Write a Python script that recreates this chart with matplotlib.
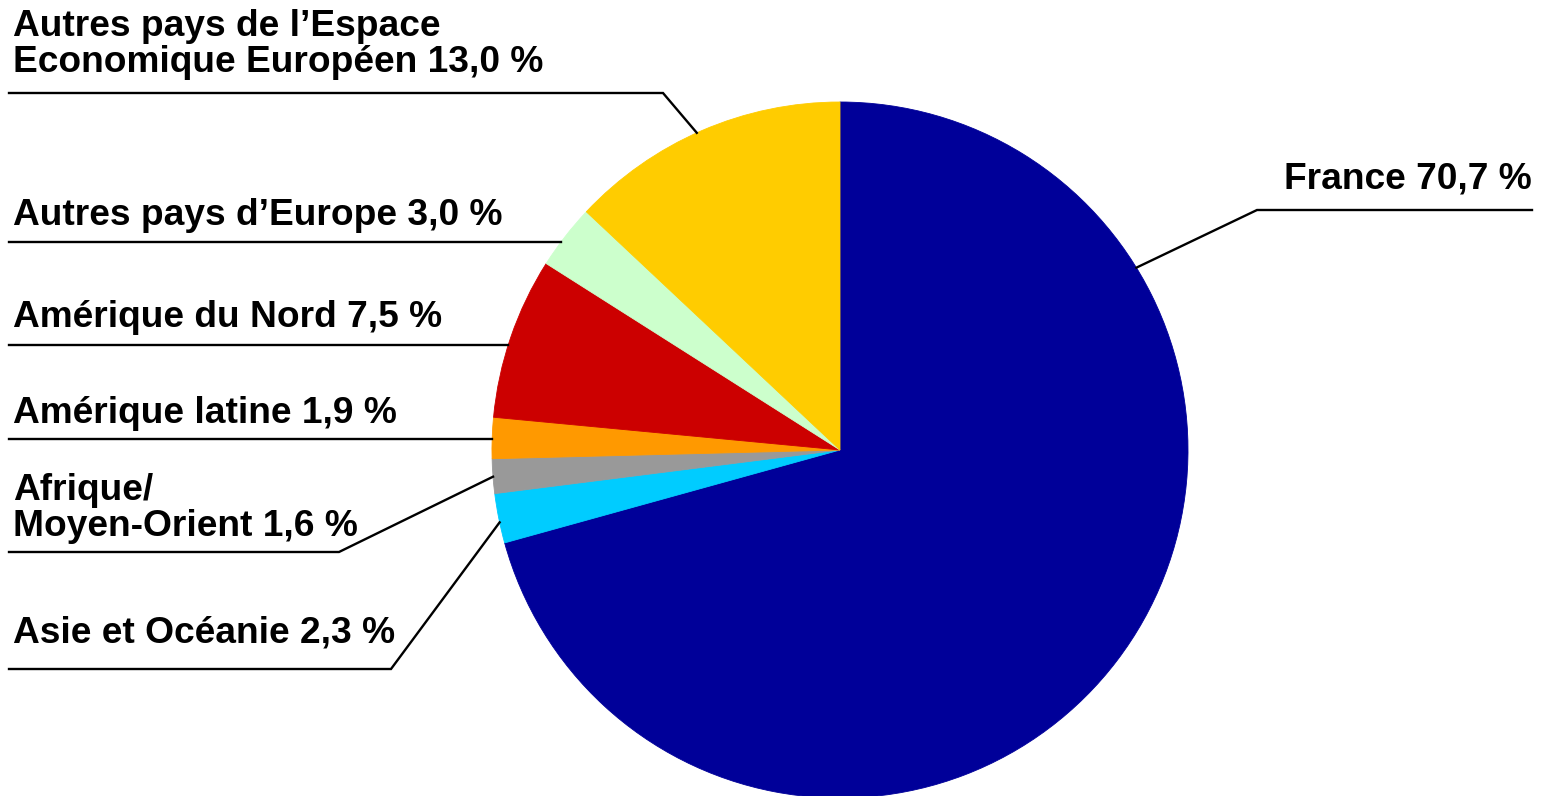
import numpy as np
import matplotlib
matplotlib.use("Agg")
import matplotlib.pyplot as plt

# données (en %)
regions = ["France", "Asie et Océanie", "Afrique/\nMoyen-Orient", "Amérique latine",
           "Amérique du Nord", "Autres pays d’Europe",
           "Autres pays de l’Espace\nEconomique Européen"]
parts = [70.7, 2.3, 1.6, 1.9, 7.5, 3.0, 13.0]
couleurs = ["#000099", "#00CCFF", "#999999", "#FF9900", "#CC0000", "#CCFFCC", "#FFCC00"]

W, H = 1541, 796
fig = plt.figure(figsize=(W / 100, H / 100), dpi=100)
ax = fig.add_axes([0, 0, 1, 1])
ax.set_xlim(0, W)
ax.set_ylim(0, H)
ax.axis("off")

cx, cy, r = 840, H - 450, 348
wedges, _ = ax.pie(parts, colors=couleurs, startangle=90, counterclock=False,
                   center=(cx, cy), radius=r, wedgeprops=dict(linewidth=0.6))
for w in wedges:
    w.set_edgecolor(w.get_facecolor())
ax.set_xlim(0, W)
ax.set_ylim(0, H)
ax.set_aspect("equal")

# position des étiquettes (pixels depuis le haut) : baseline (dernière ligne), ligne, coude, angle de l'ancre
place = {
    "France": (189, 210, 1257, 31.6),
    "Asie et Océanie": (643, 669, 391, 192.0),
    "Afrique/\nMoyen-Orient": (536, 552, 339, 184.4),
    "Amérique latine": (423, 439, None, None),
    "Amérique du Nord": (327, 345, None, None),
    "Autres pays d’Europe": (225, 242, None, None),
    "Autres pays de l’Espace\nEconomique Européen": (72, 93, 663, 114.3),
}

police = dict(family=["Liberation Sans", "DejaVu Sans"], weight="bold", fontsize=26.7)

for nom, val in zip(regions, parts):
    base, ly, kx, ang = place[nom]
    txt = f"{nom} {val:.1f} %".replace(".", ",")
    ly = H - ly
    if ang is None:
        ex = cx - np.sqrt(r**2 - (ly - cy)**2)
        ey = ly
        kx = ex
    else:
        ex = cx + r * np.cos(np.radians(ang))
        ey = cy + r * np.sin(np.radians(ang))
    if nom == "France":
        xs = [1532, kx, ex]
        ax.text(1532, H - base, txt, ha="right", va="baseline", **police)
    else:
        xs = [9, kx, ex]
        ax.text(13, H - base, txt, ha="left", va="baseline", linespacing=1.04, **police)
    ax.plot(xs, [ly, ly, ey], color="black", lw=1.7, solid_joinstyle="miter")

fig.savefig("out.png", dpi=100)
